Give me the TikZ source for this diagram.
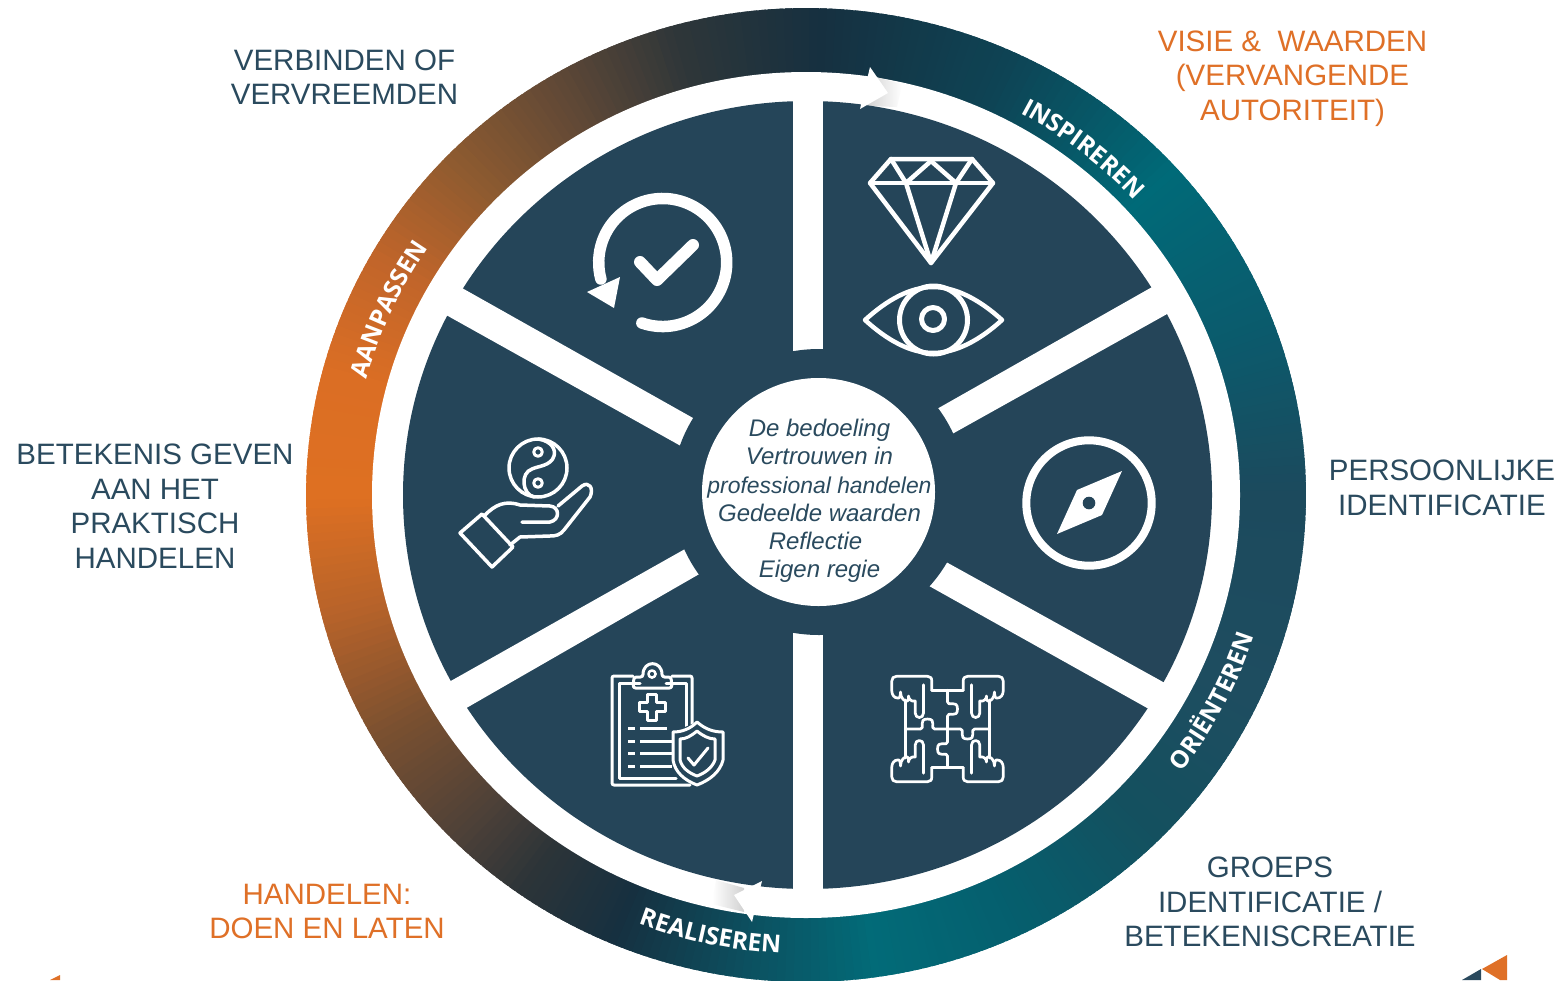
\documentclass[tikz,border=0pt]{standalone}
\usepackage{fontspec}
\setmainfont{Liberation Sans}
\newfontfamily\ringfont{Open Sans}
\usetikzlibrary{decorations.text,calc}
\definecolor{disc}{HTML}{254559}
\definecolor{labeldark}{HTML}{2A4A5E}
\definecolor{labelorange}{HTML}{DF7027}
\definecolor{ka}{HTML}{DE7022}
\definecolor{kb}{HTML}{DB6E24}
\definecolor{kb2}{HTML}{C0652A}
\definecolor{kc}{HTML}{8C5A30}
\definecolor{kd}{HTML}{5F4836}
\definecolor{kd2}{HTML}{2E3639}
\definecolor{ke}{HTML}{163040}
\definecolor{kf}{HTML}{0E4455}
\definecolor{kg}{HTML}{006A78}
\definecolor{kh}{HTML}{0B5A6C}
\definecolor{ki}{HTML}{1C4A5D}
\definecolor{kj}{HTML}{1E4D60}
\definecolor{kj2}{HTML}{14505F}
\definecolor{kj3}{HTML}{055F6E}
\definecolor{kk}{HTML}{026B78}
\definecolor{kl}{HTML}{0C5060}
\definecolor{km}{HTML}{2C3438}
\definecolor{kn}{HTML}{4E4138}
\definecolor{ko}{HTML}{7A5030}
\definecolor{kp}{HTML}{B5622A}
\newcommand{\seg}[4]{%
  \pgfmathtruncatemacro{\lastang}{#2-1}%
  \foreach \ang in {#1,...,\lastang}{%
    \pgfmathtruncatemacro{\pc}{100*(\ang-(#1))/((#2)-(#1))}%
    \fill[#4!\pc!#3] (806,495) -- ($(806,495)+(\ang-0.4:500pt and 487pt)$) -- ($(806,495)+(\ang+1.4:500pt and 487pt)$) -- cycle;
  }}
\tikzset{
  biglabel/.style={font=\fontsize{29.5}{34.6}\selectfont,align=center,inner sep=0pt},
  icon/.style={draw=white,line join=round,line cap=round,line width=#1},
  icon/.default=3pt,
  ringtext/.style={decorate,decoration={text along path,text align={align=center},text={|\ringfont\bfseries\fontsize{24.5}{24.5}\selectfont\color{white}|#1}}},
  spoke/.style={fill=white},
}
\begin{document}
\begin{tikzpicture}[x=1pt,y=-1pt]
\useasboundingbox (0,0) rectangle (1568,980);
\clip (0,0) rectangle (1568,980);
\fill[white] (0,0) rectangle (1568,980);
% gradient ring
\seg{-180}{-165}{ka}{kp}
\seg{-165}{-150}{kp}{ko}
\seg{-150}{-135}{ko}{kn}
\seg{-135}{-125}{kn}{km}
\seg{-125}{-113}{km}{ke}
\seg{-113}{-97}{ke}{kl}
\seg{-97}{-82}{kl}{kk}
\seg{-82}{-65}{kk}{kj3}
\seg{-65}{-45}{kj3}{kj2}
\seg{-45}{-25}{kj2}{kj}
\seg{-25}{0}{kj}{ki}
\seg{0}{20}{ki}{kh}
\seg{20}{42}{kh}{kg}
\seg{42}{65}{kg}{kf}
\seg{65}{88}{kf}{ke}
\seg{88}{105}{ke}{kd2}
\seg{105}{120}{kd2}{kd}
\seg{120}{135}{kd}{kc}
\seg{135}{150}{kc}{kb2}
\seg{150}{165}{kb2}{kb}
\seg{165}{180}{kb}{ka}
% white band
\fill[white] (806,495) ellipse[x radius=434pt,y radius=423pt];
\shade[left color=black!18,right color=white] (872,76) -- (902,84) -- (897,107) -- (866,106) -- cycle;
\shade[left color=white,right color=black!18] (716,880) -- (744,888) -- (744,912) -- (712,904) -- cycle;
% dark disc
\fill[disc] (807.5,495) ellipse[x radius=404.5pt,y radius=394pt];
% spokes
\fill[spoke] (793,90) rectangle (823,900);
\fill[spoke] (921,418) -- (936,443) -- (1185,304) -- (1168,278) -- cycle;
\fill[spoke] (928,552) -- (913,577) -- (1165,718) -- (1183,693) -- cycle;
\fill[spoke] (709,427) -- (697,455) -- (430,306) -- (446,279) -- cycle;
\fill[spoke] (701,540) -- (715,565) -- (449,718) -- (433,691) -- cycle;
% hub
\fill[disc] (819,492) ellipse[x radius=147pt,y radius=143pt];
\fill[white] (818.5,492) ellipse[x radius=116.5pt,y radius=114pt];
% arrowheads
\fill[white] (888,93) -- (870,67) -- (860,109) -- cycle;
\fill[white] (734,895) -- (762,881) -- (752,922) -- cycle;
% ring texts
\path[ringtext={INSPIREREN}] (806pt,-495pt) ++(65.5:447pt and 435pt) arc[start angle=65.5,end angle=38.5,x radius=447pt,y radius=435pt];
\path[ringtext={AANPASSEN}] (806pt,-495pt) ++(170:455pt and 443pt) arc[start angle=170,end angle=141,x radius=455pt,y radius=443pt];
\path[ringtext={ORIËNTEREN}] (806pt,-495pt) ++(-42:471pt and 459pt) arc[start angle=-42,end angle=-13,x radius=471pt,y radius=459pt];
\path[ringtext={REALISEREN}] (806pt,-495pt) ++(-116:471pt and 459pt) arc[start angle=-116,end angle=-88,x radius=471pt,y radius=459pt];
% labels
\node[biglabel,text=labeldark] (verbinden) at (344.5,77) {VERBINDEN OF\\VERVREEMDEN};
\node[biglabel,text=labelorange] (visie) at (1292.5,78.5) {VISIE \&\ \ WAARDEN\\(VERVANGENDE\\AUTORITEIT)};
\node[biglabel,text=labeldark] (persoonlijke) at (1442,488) {PERSOONLIJKE\\IDENTIFICATIE};
\node[biglabel,text=labeldark] (betekenis) at (155,506) {BETEKENIS GEVEN\\AAN HET\\PRAKTISCH\\HANDELEN};
\node[biglabel,text=labelorange] (handelen) at (327,911.5) {HANDELEN:\\DOEN EN LATEN};
\node[biglabel,text=labeldark] (groeps) at (1270,902) {GROEPS\\IDENTIFICATIE /\\BETEKENISCREATIE};
\node[font=\fontsize{24}{28.2}\selectfont\itshape,align=center,inner sep=0pt,text=labeldark] (hubtext) at (819.5,501) {De bedoeling\\Vertrouwen in\\{\fontsize{22.9}{28.2}\selectfont professional handelen}\\Gedeelde waarden\\Reflectie\rule{8pt}{0pt}\\Eigen regie};
% diamond
\draw[icon=4.5pt] (891,159) -- (972,159) -- (993,183) -- (931,263) -- (870,183) -- cycle;
\draw[icon=4.5pt] (870,183) -- (993,183);
\draw[icon=4.5pt] (891,159) -- (906,183) -- (931,161) -- (956,183) -- (972,159);
\draw[icon=4.5pt] (906,183) -- (931,263) -- (956,183);
% eye
\draw[icon=4.5pt] (865,320) .. controls (887,300) and (910,287) .. (933,287) .. controls (956,287) and (980,300) .. (1002,320) .. controls (980,340) and (956,353) .. (933,353) .. controls (910,353) and (887,340) .. cycle;
\draw[icon=5pt] (933.5,320) circle[radius=34pt];
\draw[icon=5pt] (933,319) circle[radius=11.5pt];
% compass
\draw[icon=8pt] (1089,503) circle[radius=62.7pt];
\fill[white] (1122,471) -- (1077,490) -- (1057,534) -- (1102,515) -- cycle;
\fill[disc] (1089,503) circle[radius=6.3pt];
% rotation
\draw[icon=11.5pt] (662.7pt,-262.5pt) ++(-109:64pt) arc[start angle=-109,end angle=195,radius=64pt];
\fill[white] (587,292) -- (620,277) -- (614,308) -- cycle;
\draw[icon=12pt] (640,262) -- (657,280) -- (693,245);
% hand with yin yang
\draw[icon=3.5pt] (538,468) circle[radius=29pt];
\draw[icon=3.5pt] (538,439) .. controls (552,441) and (556,450) .. (554,456) .. controls (551,466) and (538,466) .. (532,469) .. controls (520,473) and (522,494) .. (534,497);
\draw[icon=3pt] (538,452) circle[radius=4.3pt];
\draw[icon=3pt] (538,483) circle[radius=4.3pt];
\draw[icon=3.5pt] (460,533) -- (482,514) -- (513,547) -- (492,567) -- cycle;
\draw[icon=3.5pt] (485,515) .. controls (495,505) and (505,500) .. (520,505) -- (550,506) .. controls (560,507) and (560,520) .. (550,522) -- (522,522);
\draw[icon=3.5pt] (558,506) -- (582,486) .. controls (589,481) and (594,488) .. (590,497) -- (564,530) .. controls (560,535) and (556,536) .. (550,536) -- (520,537) -- (510,545);
% clipboard
\draw[icon=3pt,rounded corners=2pt] (633,676) -- (612,676) -- (612,785) -- (690,785);
\draw[icon=3pt,rounded corners=2pt] (672,676) -- (692,676) -- (692,730);
\draw[icon=3pt] (640,683) -- (619,683) -- (619,778) -- (676,778);
\draw[icon=3pt] (666,683) -- (686,683) -- (686,728);
\draw[icon=3pt,rounded corners=2.5pt] (634,677) -- (643,677) .. controls (643,660) and (662,660) .. (662,677) -- (671,677) -- (672,688) -- (633,688) -- cycle;
\draw[icon=2.5pt] (652,674) circle[radius=3.6pt];
\draw[icon=3pt] (647.5,694) -- (656.5,694) -- (656.5,702.5) -- (665,702.5) -- (665,711.5) -- (656.5,711.5) -- (656.5,720) -- (647.5,720) -- (647.5,711.5) -- (639,711.5) -- (639,702.5) -- (647.5,702.5) -- cycle;
\foreach \ly/\lx in {728/667,741/673,753/673,766/672}{\draw[icon=3pt,line cap=butt] (628,\ly) -- (635,\ly) (640,\ly) -- (\lx,\ly);}
\fill[disc] (697,722) -- (723,732) -- (723,763) -- (697,785) -- (673,763) -- (673,732) -- cycle;
\draw[icon=3pt] (697,722) .. controls (705,729) and (713,732) .. (723,732) -- (723,760) .. controls (720,772) and (710,780) .. (697,785) .. controls (684,780) and (675,772) .. (673,760) -- (673,732) .. controls (682,732) and (690,729) .. cycle;
\draw[icon=3pt] (697,731) .. controls (703,736) and (709,739) .. (715,739) -- (715,760) .. controls (712,768) and (705,773) .. (697,776) .. controls (689,773) and (682,768) .. (680,760) -- (680,739) .. controls (686,739) and (691,736) .. cycle;
\draw[icon=3pt] (688,758) -- (694,765) -- (708,748);
% puzzle
\foreach \sx/\sy in {1/1,-1/1,1/-1,-1/-1}{
\begin{scope}[shift={(947.5,729)},xscale=\sx,yscale=\sy]
\draw[icon=2.7pt] (-42.3,-29) -- (-42.3,0);
\draw[icon=2.7pt] (-15.7,-38.7) -- (0,-38.7);
\draw[icon=2.7pt] (-15.7,-38.7) -- (-15.7,-47.7) .. controls (-15.7,-51) and (-17,-52.7) .. (-20,-52.7) -- (-51,-52.7) .. controls (-54,-52.7) and (-55.7,-51) .. (-55.7,-48) -- (-55.7,-38) .. controls (-55.7,-34) and (-53,-31) .. (-50,-31) .. controls (-48,-30) and (-47,-33) .. (-47,-37) .. controls (-47,-31) and (-43,-27) .. (-40,-28) .. controls (-39,-28.5) and (-39,-31) .. (-39,-33) .. controls (-39,-30) and (-36,-27) .. (-32.3,-28) -- (-32.3,-16) .. controls (-32.3,-10) and (-24,-10) .. (-24,-16) -- (-24,-44.3);
\end{scope}}
\begin{scope}[shift={(947.5,729)}]
\draw[icon=2.7pt] (-42.3,0) -- (-27,0) .. controls (-22,0) and (-30,-10) .. (-20,-10) .. controls (-10,-10) and (-18,0) .. (-13,0) -- (0,0);
\draw[icon=2.7pt] (0,0) -- (13,0) .. controls (18,0) and (10,10) .. (20,10) .. controls (30,10) and (22,0) .. (27,0) -- (42.3,0);
\draw[icon=2.7pt] (0,-38.7) -- (0,-27) .. controls (0,-22) and (10,-30) .. (10,-20) .. controls (10,-10) and (0,-18) .. (0,-13) -- (0,0);
\draw[icon=2.7pt] (0,0) -- (0,13) .. controls (0,18) and (-10,10) .. (-10,20) .. controls (-10,30) and (0,22) .. (0,27) -- (0,38.7);
\end{scope}
% corner marks
\fill[labelorange] (1482,969) -- (1507,955) -- (1507,980) -- (1500,980) -- cycle;
\fill[labeldark] (1481,969) -- (1481,980) -- (1462,980) -- cycle;
\fill[labelorange] (50,980) -- (60,975) -- (60,980) -- cycle;
\end{tikzpicture}
\end{document}
